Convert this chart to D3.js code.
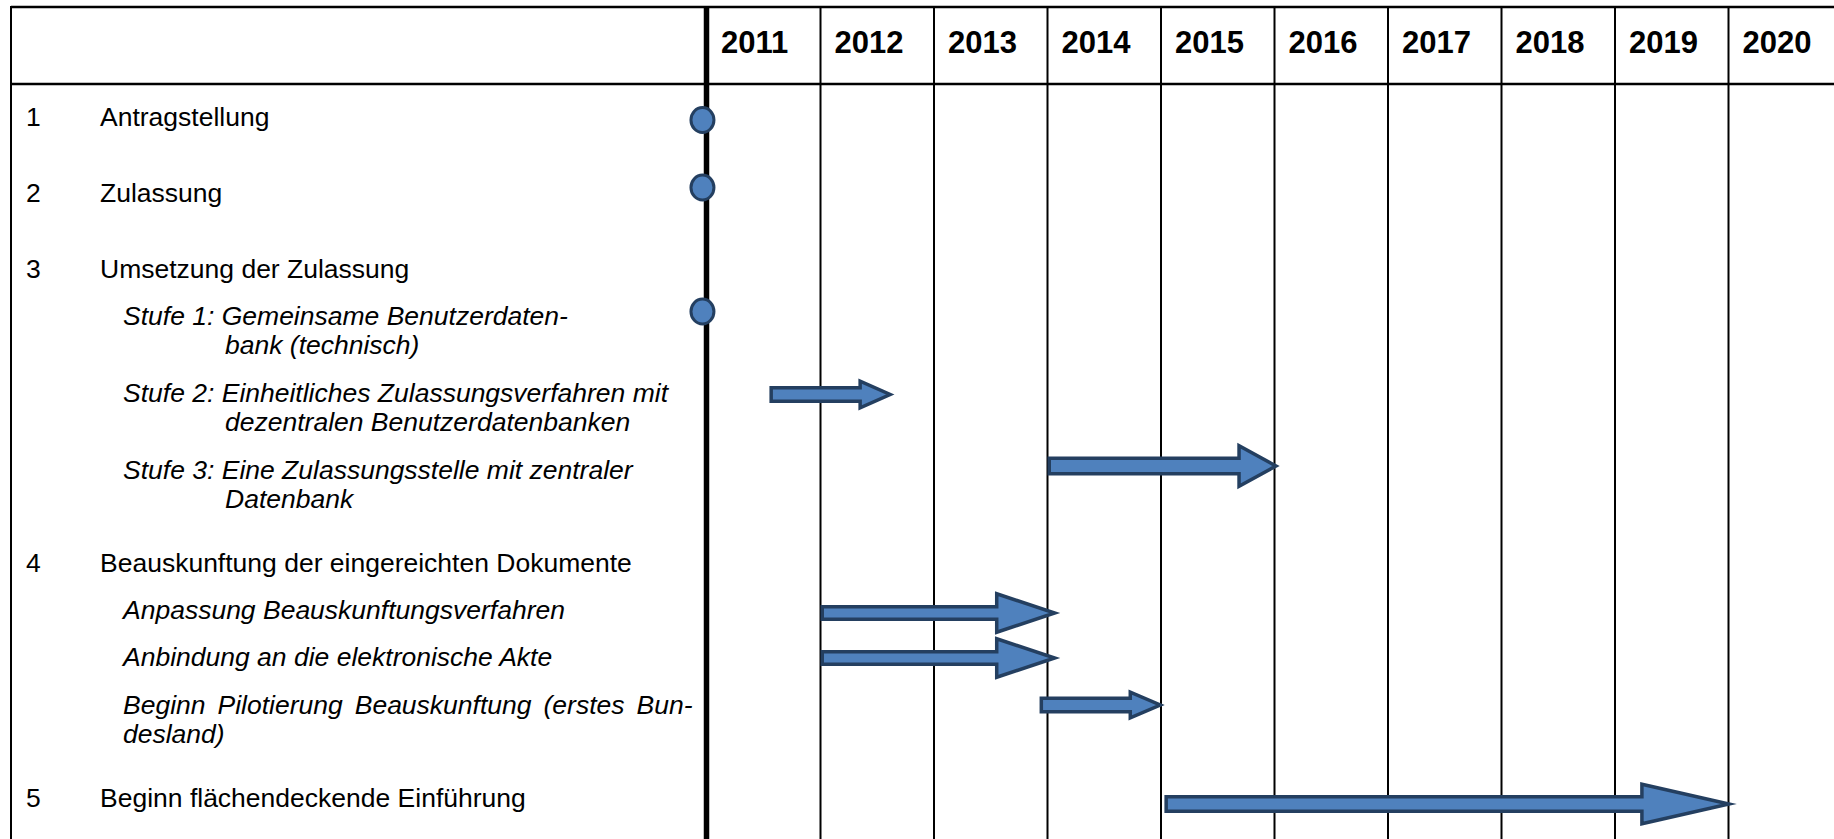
<!DOCTYPE html>
<html>
<head>
<meta charset="utf-8">
<script src="https://cdn.jsdelivr.net/npm/d3@7"></script>
<style>
  html, body { margin: 0; padding: 0; background: #fff; }
  svg { display: block; }
</style>
</head>
<body>
<div id="chart"></div>
<script>
// ---- data ----
const years = [2011, 2012, 2013, 2014, 2015, 2016, 2017, 2018, 2019, 2020];

const rowLevel = ["main", "main", "main", "sub", "sub", "sub", "main", "sub", "sub", "sub", "main"];
const rowNumber = ["1", "2", "3", "", "", "", "4", "", "", "", "5"];
const rowLines = [
    ["Antragstellung"],
    ["Zulassung"],
    ["Umsetzung der Zulassung"],
    ["Stufe 1: Gemeinsame Benutzerdaten-", "bank (technisch)"],
    ["Stufe 2: Einheitliches Zulassungsverfahren mit", "dezentralen Benutzerdatenbanken"],
    ["Stufe 3: Eine Zulassungsstelle mit zentraler", "Datenbank"],
    ["Beauskunftung der eingereichten Dokumente"],
    ["Anpassung Beauskunftungsverfahren"],
    ["Anbindung an die elektronische Akte"],
    ["Beginn Pilotierung Beauskunftung (erstes Bun-", "desland)"],
    ["Beginn flächendeckende Einführung"]
];

// milestones (circles) on the start line
const milestoneRow = [0, 1, 3];
const milestoneYear = [2010.96, 2010.96, 2010.96];

// periods (block arrows)
const arrowRow = [4, 5, 7, 8, 9, 10];
const arrowStart = [2011.55, 2014.0, 2012.0, 2012.0, 2013.93, 2015.03];
const arrowEnd = [2012.64, 2016.04, 2014.09, 2014.09, 2015.02, 2020.03];

// ---- layout / style ----
const W = 1834, H = 839;
const frameLeft = 11, frameTop = 7, headerBottom = 84;
const fontSize = 26.5;
const lineHeight = 29.5;
const fill = "#4f81bd", stroke = "#243f60";

// arrow shapes as drawn in the original (shaft / head thickness, head length, vertical nudge)
const arrowShape = [
    { shaft: 13.5, head: 26.5, len: 30, dy: -7 },
    { shaft: 15.5, head: 40.5, len: 37, dy: -12.5 },
    { shaft: 12.5, head: 38.5, len: 58, dy: -5.5 },
    { shaft: 12.5, head: 38.5, len: 58, dy: -8 },
    { shaft: 13.5, head: 25.5, len: 30, dy: -8.5 },
    { shaft: 14.5, head: 39.5, len: 87, dy: -3 }
];
const milestoneNudge = [-6, -14.5, -13];

const svg = d3.select("#chart")
    .append("svg")
    .attr("width", W)
    .attr("height", H)
    .style("font-family", "'Liberation Sans', Arial, sans-serif");

const x = d3.scaleLinear()
    .domain([2011, 2021])
    .range([707, 1842]);

// =========================
// ROW BASELINES (text flow)
// =========================
const gapAfter = { "main-main": 76, "main-sub": 46.5, "sub-sub": 47.5, "sub-main": 64 };
const baseline = [];
rowLevel.forEach((lvl, i) => {
    if (i === 0) { baseline.push(126); return; }
    const prev = rowLevel[i - 1];
    baseline.push(baseline[i - 1] + (rowLines[i - 1].length - 1) * lineHeight + gapAfter[prev + "-" + lvl]);
});

// =========================
// GRID
// =========================
const grid = svg.append("g").attr("stroke", "#000");

grid.append("line")
    .attr("x1", frameLeft).attr("x2", W)
    .attr("y1", frameTop).attr("y2", frameTop)
    .attr("stroke-width", 2.5);

grid.append("line")
    .attr("x1", frameLeft).attr("x2", W)
    .attr("y1", headerBottom).attr("y2", headerBottom)
    .attr("stroke-width", 2.5);

grid.append("line")
    .attr("x1", frameLeft).attr("x2", frameLeft)
    .attr("y1", frameTop - 1).attr("y2", H)
    .attr("stroke-width", 2);

grid.selectAll(".year-line")
    .data(years.slice(1))
    .enter()
    .append("line")
    .attr("x1", d => x(d)).attr("x2", d => x(d))
    .attr("y1", frameTop).attr("y2", H)
    .attr("stroke-width", 2);

// thick start line
grid.append("line")
    .attr("x1", x(years[0]) - 0.5).attr("x2", x(years[0]) - 0.5)
    .attr("y1", frameTop - 1).attr("y2", H)
    .attr("stroke-width", 5.5);

// =========================
// HEADER
// =========================
svg.selectAll(".year")
    .data(years)
    .enter()
    .append("text")
    .attr("x", d => x(d) + 14)
    .attr("y", 53)
    .style("font-size", "31px")
    .style("font-weight", "bold")
    .text(d => d);

// =========================
// ROW LABELS
// =========================
const labels = svg.append("g")
    .style("font-size", fontSize + "px")
    .attr("fill", "#000");

const justified = new Set(["Beginn Pilotierung Beauskunftung (erstes Bun-"]);
const justifyRight = 692.5;

function drawLine(str, x0, y, italic) {
    const t = labels.append("text")
        .attr("x", x0)
        .attr("y", y)
        .style("font-style", italic ? "italic" : "normal");
    if (!justified.has(str)) { t.text(str); return; }
    const words = str.split(" ");
    const widths = words.map(w => { t.text(w); return t.node().getComputedTextLength(); });
    t.text(null);
    const gap = (justifyRight - x0 - d3.sum(widths)) / (words.length - 1);
    let cx = x0;
    words.forEach((w, i) => {
        t.append("tspan").attr("x", cx).text(w);
        cx += widths[i] + gap;
    });
}

rowLines.forEach((lines, i) => {
    const sub = rowLevel[i] === "sub";
    if (rowNumber[i]) {
        labels.append("text").attr("x", 26).attr("y", baseline[i]).text(rowNumber[i]);
    }
    const x0 = sub ? 123 : 100;
    const contX = lines[0].startsWith("Stufe") ? 225 : x0;
    lines.forEach((line, j) => {
        drawLine(line, j === 0 ? x0 : contX, baseline[i] + j * lineHeight, sub);
    });
});

// =========================
// MILESTONES
// =========================
svg.selectAll(".milestone")
    .data(milestoneRow)
    .enter()
    .append("ellipse")
    .attr("cx", (d, i) => x(milestoneYear[i]))
    .attr("cy", (d, i) => baseline[d] + milestoneNudge[i])
    .attr("rx", 11.5)
    .attr("ry", 12.5)
    .attr("fill", fill)
    .attr("stroke", stroke)
    .attr("stroke-width", 3);

// =========================
// ARROWS
// =========================
function arrowPath(x0, x1, cy, s) {
    const a = x0 + 1.75, tip = x1 - 3, b = tip - s.len;
    return d3.line()([
        [a, cy - s.shaft / 2], [b, cy - s.shaft / 2], [b, cy - s.head / 2],
        [tip, cy], [b, cy + s.head / 2], [b, cy + s.shaft / 2], [a, cy + s.shaft / 2]
    ]) + "Z";
}

svg.selectAll(".arrow")
    .data(arrowRow)
    .enter()
    .append("path")
    .attr("d", (d, i) => arrowPath(x(arrowStart[i]), x(arrowEnd[i]), baseline[d] + arrowShape[i].dy, arrowShape[i]))
    .attr("fill", fill)
    .attr("stroke", stroke)
    .attr("stroke-width", 3.5)
    .attr("stroke-linejoin", "miter")
    .attr("stroke-miterlimit", 10);
</script>
</body>
</html>
